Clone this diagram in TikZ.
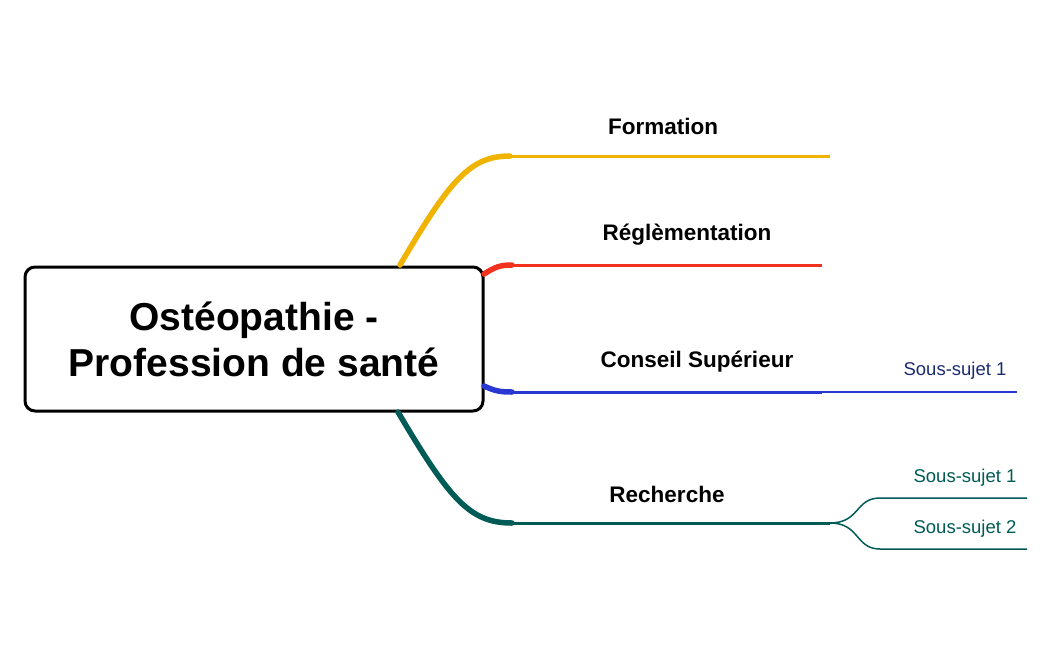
\documentclass[tikz,border=0pt]{standalone}
\usepackage{fontspec}
\setmainfont{Liberation Sans}
\definecolor{cy}{HTML}{F0B400}
\definecolor{cr}{HTML}{F0321E}
\definecolor{cb}{HTML}{2838D0}
\definecolor{ct}{HTML}{005A55}
\definecolor{cn}{HTML}{1A2A70}
\begin{document}
\begin{tikzpicture}[x=1pt,y=-1pt,
  lbl/.style={font=\fontsize{22.5}{26}\selectfont\bfseries},
  sub/.style={font=\fontsize{18.5}{22}\selectfont},
  thick1/.style={line width=5.5pt,line cap=round},
  thin1/.style={line width=3pt}]
\useasboundingbox (0,0) rectangle (1050,649);
\node[draw,line width=3pt,rounded corners=10pt,minimum width=458pt,minimum height=144pt,align=center,
  font=\fontsize{39}{46}\selectfont\bfseries] (c) at (254,339) {Ostéopathie -\\Profession de santé};
\coordinate (y0) at (400,265); \coordinate (y1) at (510,156); \coordinate (y2) at (830,156);
\coordinate (r0) at (484,274); \coordinate (r1) at (512,265); \coordinate (r2) at (822,265);
\coordinate (b0) at (484,386); \coordinate (b1) at (512,392); \coordinate (b2) at (822,392); \coordinate (b3) at (1017,392);
\coordinate (t0) at (398,412); \coordinate (t1) at (512,523); \coordinate (t2) at (830,523);
\coordinate (s1) at (880,498); \coordinate (s1e) at (1027,498);
\coordinate (s2) at (880,549); \coordinate (s2e) at (1027,549);
\draw[cy,thick1] (y0) .. controls (450,180) and (470,156) .. (y1);
\draw[cy,thin1] (y1) -- (y2);
\draw[cr,thick1] (r0) .. controls (495,267) and (500,265) .. (r1);
\draw[cr,thin1] (r1) -- (r2);
\draw[cb,thick1] (b0) .. controls (495,391) and (500,392) .. (b1);
\draw[cb,thin1] (b1) -- (b2);
\draw[cb,line width=1.5pt] (b2) -- (b3);
\draw[ct,thick1] (t0) .. controls (450,500) and (470,523) .. (t1);
\draw[ct,thin1] (t1) -- (t2);
\draw[ct,line width=1.5pt] (t2) .. controls (860,523) and (855,498) .. (s1) -- (s1e);
\draw[ct,line width=1.5pt] (t2) .. controls (860,523) and (855,549) .. (s2) -- (s2e);
\node[lbl] (lf) at (663,126) {Formation};
\node[lbl] (lr) at (687,235) {Réglèmentation};
\node[lbl] (lc) at (697,362) {Conseil Supérieur};
\node[lbl] (lh) at (667,494) {Recherche};
\node[sub,text=cn] (sb) at (955,371) {Sous-sujet 1};
\node[sub,text=ct] (st1) at (965,478) {Sous-sujet 1};
\node[sub,text=ct] (st2) at (965,529) {Sous-sujet 2};
\end{tikzpicture}
\end{document}
